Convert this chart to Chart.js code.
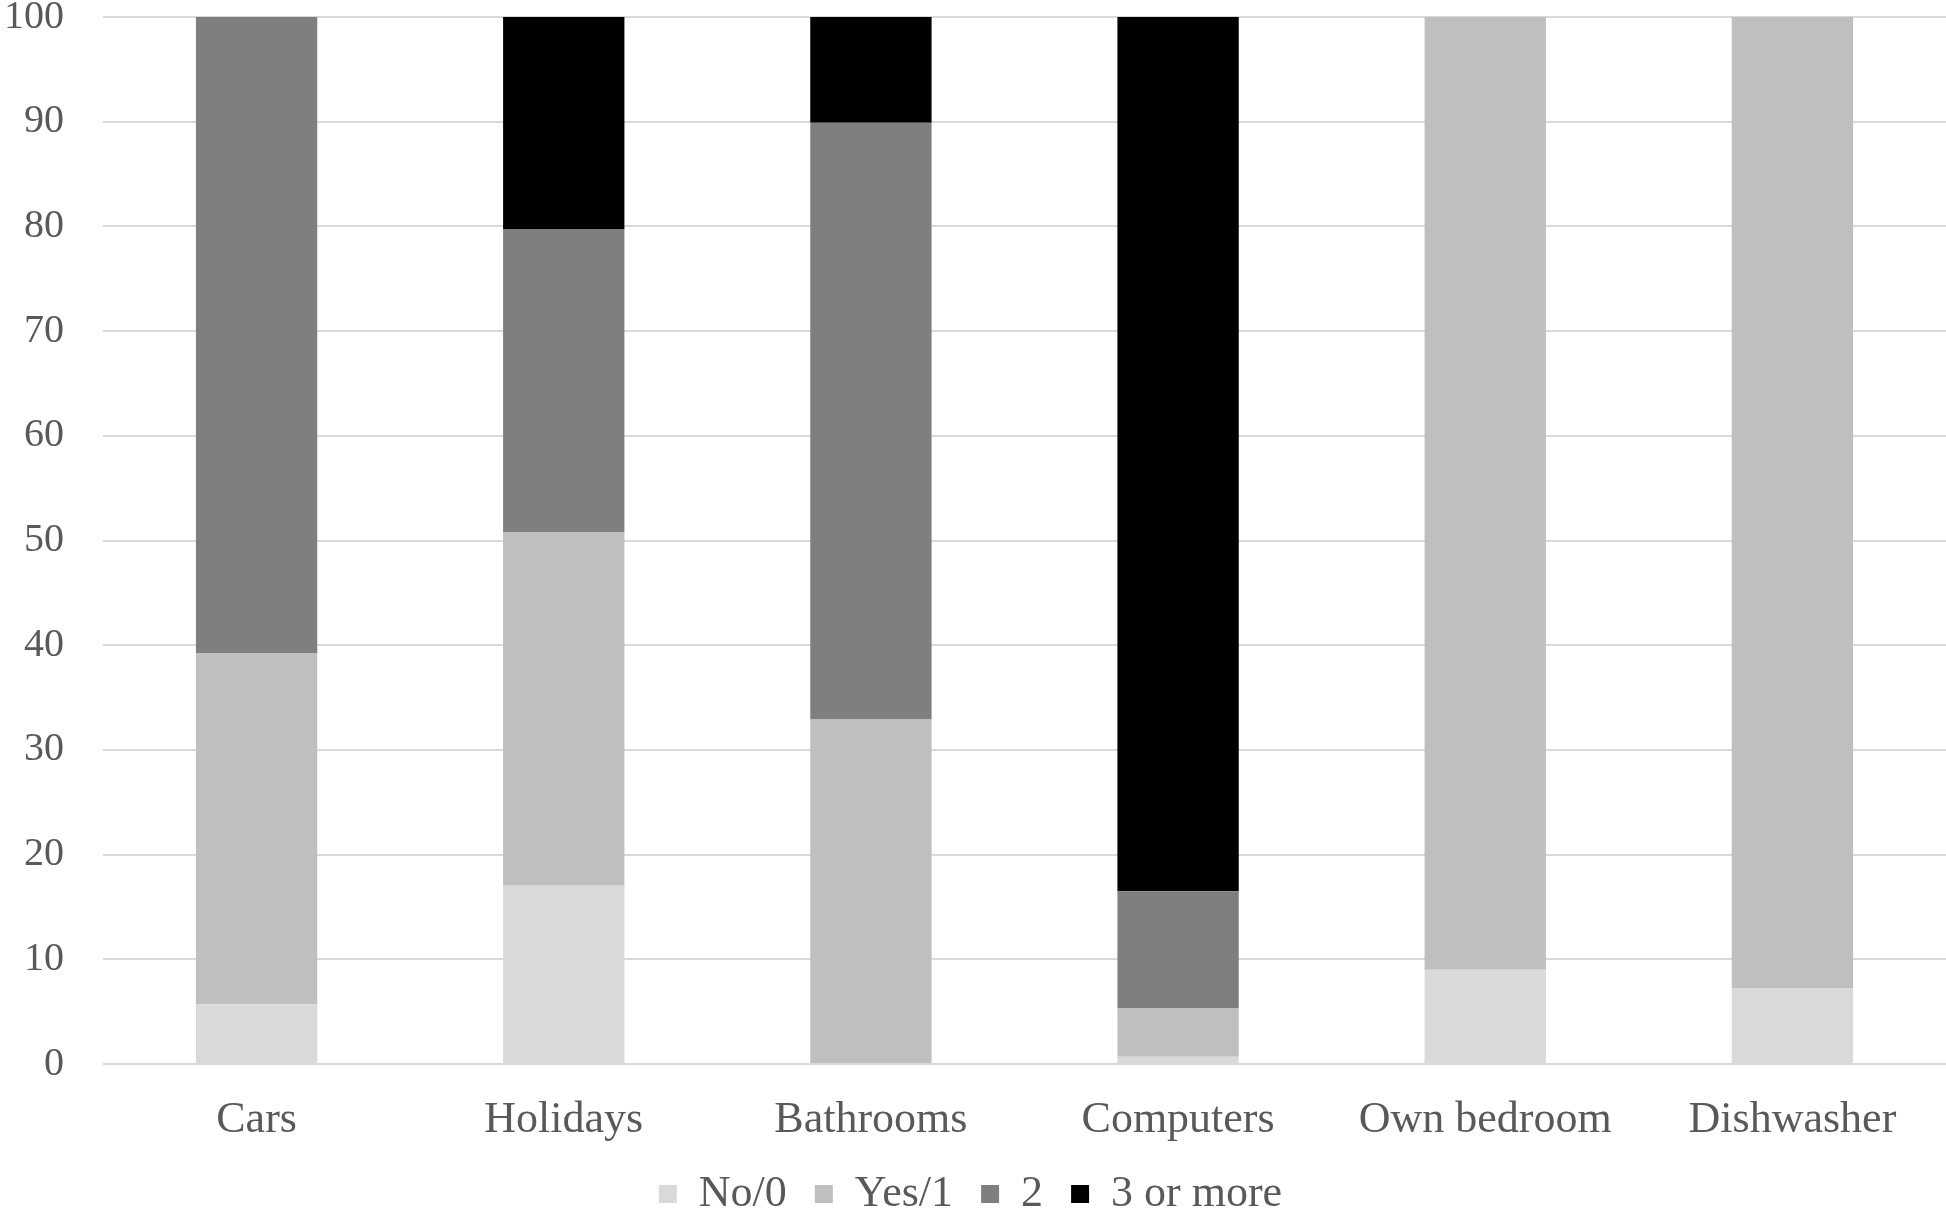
<!DOCTYPE html>
<html>
<head>
<meta charset="utf-8">
<script src="https://cdn.jsdelivr.net/npm/chart.js@4"></script>
<style>
  html, body { margin: 0; padding: 0; background: #fff; }
  .wrap { width: 1946px; height: 1209px; position: relative; }
</style>
</head>
<body>
<div class="wrap"><canvas id="ownershipChart"></canvas></div>
<script>
  // categories and series (percent of respondents)
  const categories = ['Cars', 'Holidays', 'Bathrooms', 'Computers', 'Own bedroom', 'Dishwasher'];
  const noZero   = [5.7, 17.1, 0, 0.7, 9.0, 7.2];
  const yesOne   = [33.5, 33.7, 32.9, 4.6, 91.0, 92.8];
  const two      = [60.8, 28.9, 57.0, 11.2, 0, 0];
  const threePlus = [0, 20.3, 10.1, 83.5, 0, 0];
  const yTicks = [0, 10, 20, 30, 40, 50, 60, 70, 80, 90, 100];

  const serif = "'Liberation Serif', 'Times New Roman', serif";
  const textGrey = '#595959';

  new Chart(document.getElementById('ownershipChart'), {
    type: 'bar',
    data: {
      labels: categories,
      datasets: [
        { label: 'No/0', data: noZero, backgroundColor: '#d9d9d9' },
        { label: 'Yes/1', data: yesOne, backgroundColor: '#bfbfbf' },
        { label: '2', data: two, backgroundColor: '#7f7f7f' },
        { label: '3 or more', data: threePlus, backgroundColor: '#000000' }
      ]
    },
    options: {
      responsive: true,
      maintainAspectRatio: false,
      animation: false,
      layout: { padding: { left: -5, right: 0, top: 0, bottom: -17 } },
      datasets: {
        bar: { categoryPercentage: 1.0, barPercentage: 0.395 }
      },
      plugins: {
        tooltip: { enabled: false },
        legend: {
          position: 'bottom',
          labels: {
            font: { family: serif, size: 44 },
            color: textGrey,
            boxWidth: 18,
            boxHeight: 18,
            padding: 28
          }
        }
      },
      scales: {
        x: {
          stacked: true,
          grid: { display: false },
          border: { display: false },
          afterFit: axis => { axis.height = 80; },
          ticks: {
            font: { family: serif, size: 44, lineHeight: 0.2 },
            color: textGrey,
            padding: 44
          }
        },
        y: {
          stacked: true,
          min: 0,
          max: 100,
          afterBuildTicks: axis => { axis.ticks = yTicks.map(v => ({ value: v })); },
          grid: { color: '#d9d9d9', lineWidth: 2, drawTicks: true, tickLength: 30, tickColor: 'rgba(0,0,0,0)' },
          border: { display: false },
          ticks: {
            font: { family: serif, size: 40, lineHeight: 0.4 },
            color: textGrey,
            padding: 9
          }
        }
      }
    }
  });
</script>
</body>
</html>
